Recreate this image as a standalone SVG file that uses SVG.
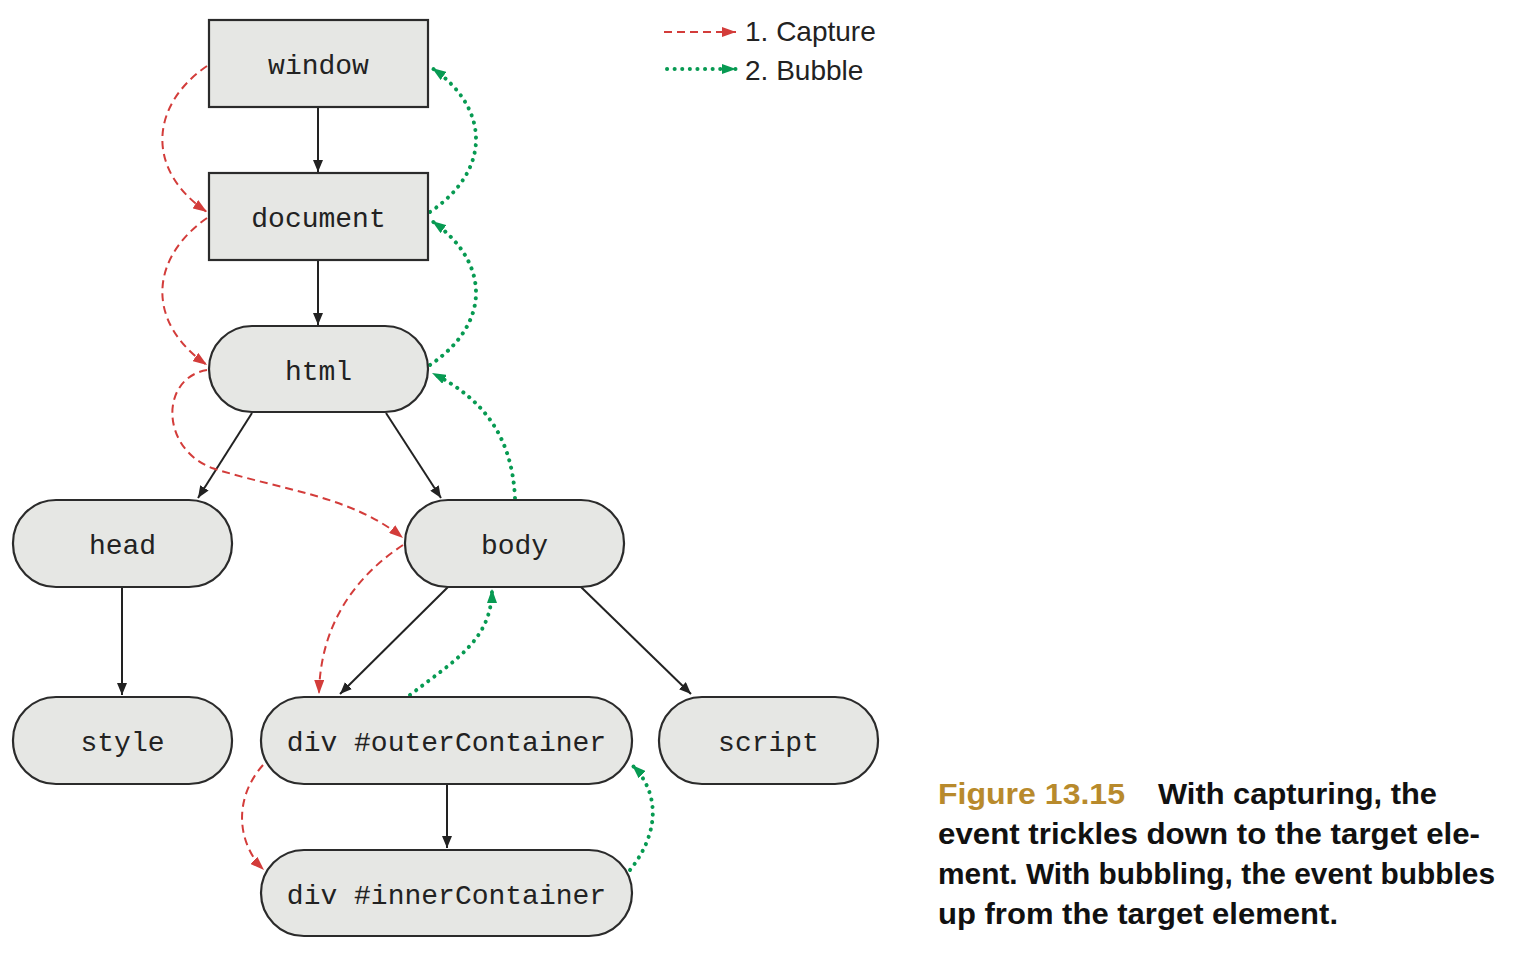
<svg xmlns="http://www.w3.org/2000/svg" width="1518" height="962" viewBox="0 0 1518 962">
<style>
.node{fill:#e6e7e4;stroke:#2b2b2b;stroke-width:2.2}
.lbl{font-family:"Liberation Mono","DejaVu Sans Mono",monospace;font-size:28px;fill:#222;text-anchor:middle}
.edge{fill:none;stroke:#222;stroke-width:2}
.cap{fill:none;stroke:#d33c3a;stroke-width:2;stroke-dasharray:8 5}
.bub{fill:none;stroke:#079a52;stroke-width:4;stroke-dasharray:0.1 7.5;stroke-linecap:round}
.leg{font-family:"Liberation Sans",Arial,sans-serif;font-size:28px;fill:#222}
.cap1{font-family:"Liberation Sans",Arial,sans-serif;font-weight:bold;font-size:30px;fill:#111}
</style>
<defs>
<marker id="ab" viewBox="0 0 12 10" refX="12" refY="5" markerWidth="12" markerHeight="10" markerUnits="userSpaceOnUse" orient="auto"><path d="M0,0 L12,5 L0,10 Z" fill="#222"/></marker>
<marker id="ar" viewBox="0 0 14 10" refX="14" refY="5" markerWidth="14" markerHeight="10" markerUnits="userSpaceOnUse" orient="auto"><path d="M0,0 L14,5 L0,10 Z" fill="#d33c3a"/></marker>
<marker id="ag" viewBox="0 0 14 10" refX="14" refY="5" markerWidth="14" markerHeight="10" markerUnits="userSpaceOnUse" orient="auto"><path d="M0,0 L14,5 L0,10 Z" fill="#079a52"/></marker>
</defs>

<g id="connectors">
<line class="edge" x1="318" y1="107" x2="318" y2="172" marker-end="url(#ab)"/>
<line class="edge" x1="318" y1="260" x2="318" y2="325" marker-end="url(#ab)"/>
<line class="edge" x1="252" y1="413" x2="198" y2="498" marker-end="url(#ab)"/>
<line class="edge" x1="386" y1="413" x2="441" y2="498" marker-end="url(#ab)"/>
<line class="edge" x1="122" y1="587" x2="122" y2="695" marker-end="url(#ab)"/>
<line class="edge" x1="448" y1="587" x2="340" y2="694" marker-end="url(#ab)"/>
<line class="edge" x1="581" y1="587" x2="691" y2="694" marker-end="url(#ab)"/>
<line class="edge" x1="447" y1="784" x2="447" y2="848" marker-end="url(#ab)"/>

<path class="cap" d="M207,66 C150,105 145,170 207,212" marker-end="url(#ar)"/>
<path class="cap" d="M207,218 C150,258 145,322 207,365" marker-end="url(#ar)"/>
<path class="cap" d="M207,370 C160,378 160,448 212,468 C280,490 350,495 403,538" marker-end="url(#ar)"/>
<path class="cap" d="M403,545 C350,580 320,630 319,694" marker-end="url(#ar)"/>
<path class="cap" d="M263,765 C232,800 238,845 264,870" marker-end="url(#ar)"/>

<path class="bub" d="M430,212 C492,170 490,108 432,68" marker-end="url(#ag)"/>
<path class="bub" d="M430,365 C492,323 490,262 432,221" marker-end="url(#ag)"/>
<path class="bub" d="M515,498 C512,435 482,398 432,373" marker-end="url(#ag)"/>
<path class="bub" d="M410,695 C455,660 492,640 492,589" marker-end="url(#ag)"/>
<path class="bub" d="M630,870 C662,830 658,790 632,765" marker-end="url(#ag)"/>
</g>

<g id="window"><rect class="node" x="209" y="20" width="219" height="87"/><text class="lbl" x="318.5" y="74">window</text></g>
<g id="document"><rect class="node" x="209" y="173" width="219" height="87"/><text class="lbl" x="318.5" y="227">document</text></g>
<g id="html"><rect class="node" x="209" y="326" width="219" height="86" rx="43"/><text class="lbl" x="318.5" y="380">html</text></g>
<g id="head"><rect class="node" x="13" y="500" width="219" height="87" rx="43"/><text class="lbl" x="122.5" y="554">head</text></g>
<g id="body"><rect class="node" x="405" y="500" width="219" height="87" rx="43"/><text class="lbl" x="514.5" y="554">body</text></g>
<g id="style"><rect class="node" x="13" y="697" width="219" height="87" rx="43"/><text class="lbl" x="122.5" y="751">style</text></g>
<g id="outerContainer"><rect class="node" x="261" y="697" width="371" height="87" rx="43"/><text class="lbl" x="446.5" y="751">div #outerContainer</text></g>
<g id="script"><rect class="node" x="659" y="697" width="219" height="87" rx="43"/><text class="lbl" x="768.5" y="751">script</text></g>
<g id="innerContainer"><rect class="node" x="261" y="850" width="371" height="86" rx="43"/><text class="lbl" x="446.5" y="904">div #innerContainer</text></g>

<g id="legend">
<line class="cap" x1="664" y1="32" x2="736" y2="32" marker-end="url(#ar)"/>
<text class="leg" x="745" y="41">1. Capture</text>
<line class="bub" x1="667" y1="69" x2="736" y2="69" marker-end="url(#ag)"/>
<text class="leg" x="745" y="80">2. Bubble</text>
</g>

<g id="caption">
<text class="cap1" x="938" y="804" style="fill:#b88a2c" textLength="187" lengthAdjust="spacingAndGlyphs">Figure 13.15</text>
<text class="cap1" x="1158" y="804" textLength="279" lengthAdjust="spacingAndGlyphs">With capturing, the</text>
<text class="cap1" x="938" y="844" textLength="542" lengthAdjust="spacingAndGlyphs">event trickles down to the target ele-</text>
<text class="cap1" x="938" y="884" textLength="557" lengthAdjust="spacingAndGlyphs">ment. With bubbling, the event bubbles</text>
<text class="cap1" x="938" y="924" textLength="400" lengthAdjust="spacingAndGlyphs">up from the target element.</text>
</g>
</svg>
